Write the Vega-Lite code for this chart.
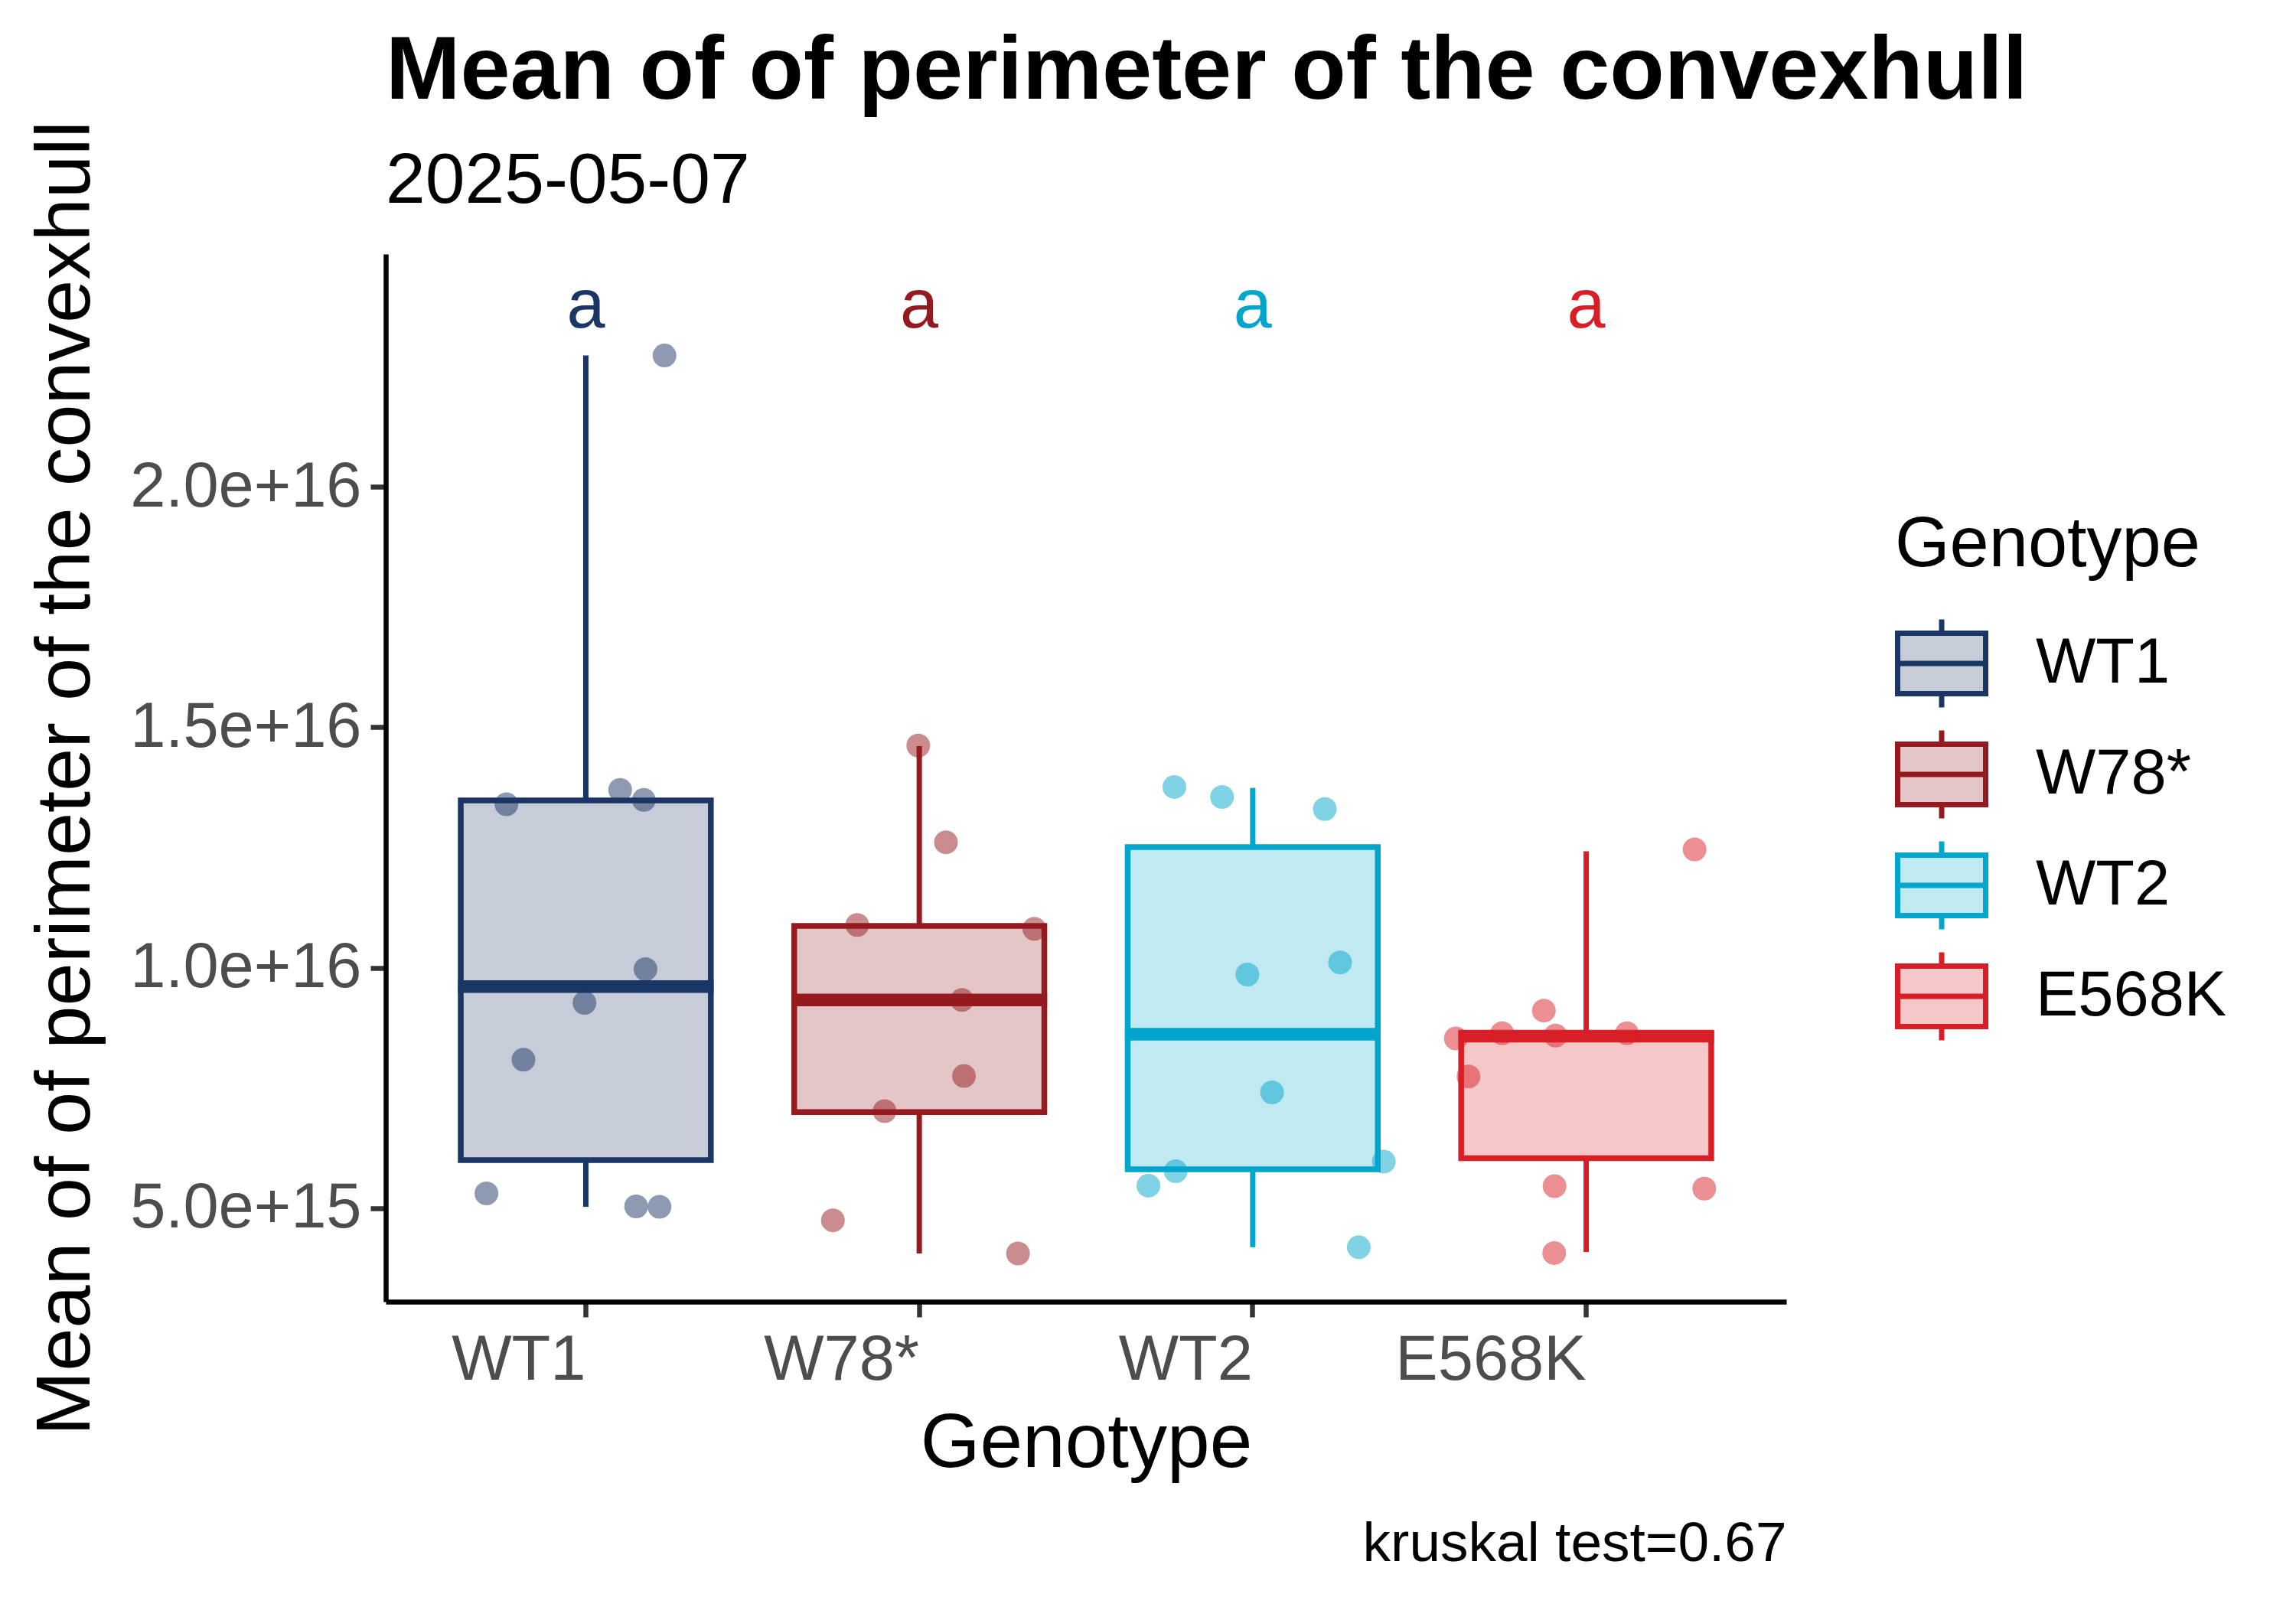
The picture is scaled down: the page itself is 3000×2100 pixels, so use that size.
{
  "$schema": "https://vega.github.io/schema/vega-lite/v6.json",
  "width": 1830,
  "height": 1369,
  "autosize": "none",
  "padding": {"left": 504, "top": 332, "right": 666, "bottom": 398},
  "background": "white",
  "title": {
    "text": "Mean of of perimeter of the convexhull",
    "subtitle": "2025-05-07",
    "anchor": "start",
    "frame": "group",
    "font": "Liberation Sans",
    "fontSize": 117,
    "fontWeight": "bold",
    "color": "black",
    "subtitleFont": "Liberation Sans",
    "subtitleFontSize": 93,
    "subtitleColor": "black",
    "subtitlePadding": 38,
    "offset": -128
  },
  "datasets": {
    "boxes": [
      {"genotype": "WT1", "lower": 5.03e15, "q1": 6.0e15, "median": 9.61e15, "q3": 1.348e16, "upper": 2.273e16, "letter": "a"},
      {"genotype": "W78*", "lower": 4.06e15, "q1": 7.0e15, "median": 9.33e15, "q3": 1.087e16, "upper": 1.461e16, "letter": "a"},
      {"genotype": "WT2", "lower": 4.19e15, "q1": 5.81e15, "median": 8.62e15, "q3": 1.251e16, "upper": 1.374e16, "letter": "a"},
      {"genotype": "E568K", "lower": 4.09e15, "q1": 6.04e15, "median": 8.58e15, "q3": 8.63e15, "upper": 1.242e16, "letter": "a"}
    ],
    "points": [
      {"genotype": "WT1", "jitter": 0.236, "value": 2.273e16},
      {"genotype": "WT1", "jitter": -0.238, "value": 1.340e16},
      {"genotype": "WT1", "jitter": 0.103, "value": 1.370e16},
      {"genotype": "WT1", "jitter": 0.174, "value": 1.349e16},
      {"genotype": "WT1", "jitter": 0.179, "value": 9.97e15},
      {"genotype": "WT1", "jitter": -0.004, "value": 9.27e15},
      {"genotype": "WT1", "jitter": -0.187, "value": 8.09e15},
      {"genotype": "WT1", "jitter": -0.298, "value": 5.31e15},
      {"genotype": "WT1", "jitter": 0.151, "value": 5.04e15},
      {"genotype": "WT1", "jitter": 0.221, "value": 5.03e15},
      {"genotype": "W78*", "jitter": -0.003, "value": 1.462e16},
      {"genotype": "W78*", "jitter": 0.08, "value": 1.261e16},
      {"genotype": "W78*", "jitter": -0.186, "value": 1.089e16},
      {"genotype": "W78*", "jitter": 0.345, "value": 1.081e16},
      {"genotype": "W78*", "jitter": 0.128, "value": 9.33e15},
      {"genotype": "W78*", "jitter": 0.134, "value": 7.75e15},
      {"genotype": "W78*", "jitter": -0.104, "value": 7.02e15},
      {"genotype": "W78*", "jitter": -0.259, "value": 4.75e15},
      {"genotype": "W78*", "jitter": 0.296, "value": 4.06e15},
      {"genotype": "WT2", "jitter": -0.235, "value": 1.376e16},
      {"genotype": "WT2", "jitter": -0.092, "value": 1.355e16},
      {"genotype": "WT2", "jitter": 0.216, "value": 1.330e16},
      {"genotype": "WT2", "jitter": 0.262, "value": 1.011e16},
      {"genotype": "WT2", "jitter": -0.016, "value": 9.86e15},
      {"genotype": "WT2", "jitter": 0.058, "value": 7.41e15},
      {"genotype": "WT2", "jitter": 0.393, "value": 5.97e15},
      {"genotype": "WT2", "jitter": -0.231, "value": 5.77e15},
      {"genotype": "WT2", "jitter": -0.313, "value": 5.47e15},
      {"genotype": "WT2", "jitter": 0.318, "value": 4.19e15},
      {"genotype": "E568K", "jitter": 0.325, "value": 1.246e16},
      {"genotype": "E568K", "jitter": -0.127, "value": 9.11e15},
      {"genotype": "E568K", "jitter": -0.391, "value": 8.53e15},
      {"genotype": "E568K", "jitter": -0.252, "value": 8.64e15},
      {"genotype": "E568K", "jitter": -0.092, "value": 8.59e15},
      {"genotype": "E568K", "jitter": 0.122, "value": 8.64e15},
      {"genotype": "E568K", "jitter": -0.353, "value": 7.74e15},
      {"genotype": "E568K", "jitter": -0.095, "value": 5.46e15},
      {"genotype": "E568K", "jitter": 0.354, "value": 5.41e15},
      {"genotype": "E568K", "jitter": -0.096, "value": 4.07e15}
    ]
  },
  "layer": [
    {
      "encoding": {
        "x": {
          "field": "genotype",
          "type": "nominal",
          "sort": ["WT1", "W78*", "WT2", "E568K"],
          "scale": {"domain": ["WT1", "W78*", "WT2", "E568K"], "paddingInner": 0.25, "paddingOuter": 0.225},
          "axis": {
            "orient": "bottom",
            "title": "Genotype",
            "titleFontSize": 100,
            "titleFontWeight": "normal",
            "titleColor": "black",
            "titlePadding": 18,
            "labelFontSize": 83,
            "labelColor": "#4D4D4D",
            "labelAngle": 0,
            "labelAlign": "right",
            "labelPadding": 15,
            "labelLimit": 1000,
            "tickSize": 20,
            "tickWidth": 6.5,
            "tickColor": "#333333",
            "domainColor": "black",
            "domainWidth": 6.5
          }
        }
      },
      "layer": [
        {
          "data": {"name": "boxes"},
          "mark": {"type": "rect", "fillOpacity": 0.25, "strokeWidth": 7.5},
          "encoding": {
            "x": {"field": "genotype", "type": "nominal", "bandPosition": 0, "title": "Genotype"},
            "x2": {"field": "genotype", "bandPosition": 1},
            "y": {"field": "q1", "type": "quantitative"},
            "y2": {"field": "q3"},
            "fill": {
              "field": "genotype",
              "type": "nominal",
              "scale": {"domain": ["WT1", "W78*", "WT2", "E568K"], "range": ["#1B3664", "#951A1F", "#02A6CC", "#D81F27"]},
              "legend": {
                "orient": "none",
                "legendX": 1972,
                "legendY": 335,
                "padding": 0,
                "title": "Genotype",
                "titleFontSize": 92,
                "titleFontWeight": "normal",
                "titleColor": "black",
                "titlePadding": 47,
                "titleLimit": 1000,
                "labelFontSize": 83,
                "labelColor": "black",
                "labelOffset": 62,
                "labelLimit": 1000,
                "rowPadding": 1,
                "symbolType": "M-1,-0.687H1V0.687H-1Z M0,-0.687V-1 M0,0.687V1 M-1,0H1",
                "symbolSize": 13225,
                "symbolStrokeWidth": 7,
                "encode": {"symbols": {"update": {"fillOpacity": {"value": 0.25}, "strokeWidth": {"value": 7}}}}
              }
            },
            "stroke": {
              "field": "genotype",
              "type": "nominal",
              "scale": {"domain": ["WT1", "W78*", "WT2", "E568K"], "range": ["#1B3664", "#951A1F", "#02A6CC", "#D81F27"]},
              "legend": {
                "orient": "none",
                "legendX": 1972,
                "legendY": 335,
                "padding": 0,
                "title": "Genotype",
                "titleFontSize": 92,
                "titleFontWeight": "normal",
                "titleColor": "black",
                "titlePadding": 47,
                "titleLimit": 1000,
                "labelFontSize": 83,
                "labelColor": "black",
                "labelOffset": 62,
                "labelLimit": 1000,
                "rowPadding": 1,
                "symbolType": "M-1,-0.687H1V0.687H-1Z M0,-0.687V-1 M0,0.687V1 M-1,0H1",
                "symbolSize": 13225,
                "symbolStrokeWidth": 7,
                "encode": {"symbols": {"update": {"fillOpacity": {"value": 0.25}, "strokeWidth": {"value": 7}}}}
              }
            }
          }
        },
        {
          "data": {"name": "boxes"},
          "mark": {"type": "rule", "strokeWidth": 7},
          "encoding": {
            "y": {"field": "lower", "type": "quantitative"},
            "y2": {"field": "q1"},
            "color": {"field": "genotype", "type": "nominal", "legend": null}
          }
        },
        {
          "data": {"name": "boxes"},
          "mark": {"type": "rule", "strokeWidth": 7},
          "encoding": {
            "y": {"field": "q3", "type": "quantitative"},
            "y2": {"field": "upper"},
            "color": {"field": "genotype", "type": "nominal", "legend": null}
          }
        },
        {
          "data": {"name": "boxes"},
          "mark": {"type": "tick", "size": 334, "thickness": 16.5, "opacity": 1},
          "encoding": {
            "y": {"field": "median", "type": "quantitative"},
            "color": {"field": "genotype", "type": "nominal", "legend": null}
          }
        },
        {
          "data": {"name": "points"},
          "mark": {"type": "circle", "size": 961, "opacity": 0.5},
          "encoding": {
            "xOffset": {"field": "jitter", "type": "quantitative", "scale": {"domain": [-0.375, 0.375]}},
            "y": {
              "field": "value",
              "type": "quantitative",
              "scale": {"domain": [3.058e15, 2.484e16], "nice": false, "zero": false},
              "axis": {
                "title": "Mean of of perimeter of the convexhull",
                "titleFontSize": 101,
                "titleFontWeight": "normal",
                "titleColor": "black",
                "titlePadding": 167,
                "titleLimit": 3000,
                "values": [5e15, 1e16, 1.5e16, 2e16],
                "format": ".1e",
                "labelFontSize": 83,
                "labelColor": "#4D4D4D",
                "labelPadding": 12,
                "labelLimit": 1000,
                "tickSize": 20,
                "tickWidth": 6.5,
                "tickColor": "#333333",
                "domainColor": "black",
                "domainWidth": 6.5,
                "grid": false
              }
            },
            "color": {
              "field": "genotype",
              "type": "nominal",
              "scale": {"domain": ["WT1", "W78*", "WT2", "E568K"], "range": ["#1B3664", "#951A1F", "#02A6CC", "#D81F27"]},
              "legend": null
            }
          }
        }
      ]
    },
    {
      "data": {"name": "boxes"},
      "mark": {"type": "text", "fontSize": 90, "baseline": "alphabetic", "align": "center"},
      "encoding": {
        "x": {
          "field": "genotype",
          "type": "nominal",
          "sort": ["WT1", "W78*", "WT2", "E568K"],
          "axis": {
            "orient": "bottom",
            "title": "kruskal test=0.67",
            "titleFontSize": 73,
            "titleFontWeight": "normal",
            "titleColor": "black",
            "titleAnchor": "end",
            "titlePadding": 280,
            "labels": false,
            "ticks": false,
            "domain": false
          }
        },
        "y": {"datum": 2.332e16, "type": "quantitative"},
        "text": {"field": "letter"},
        "color": {"field": "genotype", "type": "nominal", "legend": null}
      }
    }
  ],
  "resolve": {"axis": {"x": "independent"}},
  "config": {
    "font": "Liberation Sans",
    "view": {"stroke": null},
    "axis": {"grid": false}
  }
}
